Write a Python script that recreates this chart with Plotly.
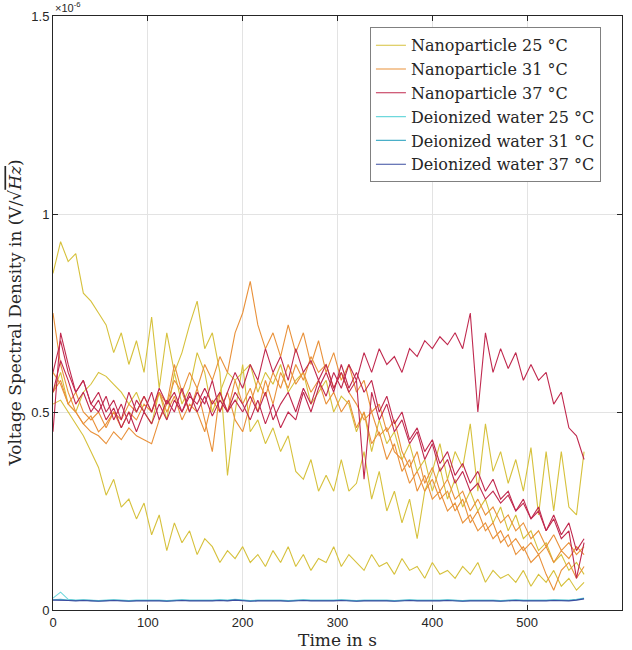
import plotly.graph_objects as go
import numpy as np

# time axis (s), one sample every 8 s
time_s = list(range(0, 561, 8))

# voltage spectral density, in units of 1e-6 V/sqrt(Hz)
np25_a = [0.85, 0.93, 0.88, 0.90, 0.80, 0.78, 0.75, 0.72, 0.65, 0.70, 0.62, 0.68, 0.60, 0.74, 0.56, 0.70,
          0.60, 0.65, 0.72, 0.78, 0.66, 0.70, 0.60, 0.34, 0.50, 0.62, 0.45, 0.48, 0.42, 0.46, 0.40, 0.44,
          0.35, 0.33, 0.38, 0.30, 0.34, 0.30, 0.38, 0.30, 0.32, 0.40, 0.28, 0.35, 0.25, 0.30, 0.22, 0.28,
          0.18, 0.30, 0.35, 0.42, 0.33, 0.40, 0.36, 0.47, 0.30, 0.47, 0.35, 0.40, 0.32, 0.38, 0.30, 0.41,
          0.24, 0.40, 0.25, 0.40, 0.26, 0.24, 0.40]
np25_b = [0.55, 0.60, 0.52, 0.50, 0.55, 0.57, 0.60, 0.59, 0.57, 0.55, 0.52, 0.55, 0.50, 0.47, 0.55, 0.48,
          0.60, 0.52, 0.56, 0.65, 0.60, 0.50, 0.55, 0.60, 0.58, 0.60, 0.62, 0.55, 0.60, 0.57, 0.62, 0.55,
          0.58, 0.60, 0.52, 0.55, 0.58, 0.50, 0.54, 0.52, 0.45, 0.50, 0.40, 0.48, 0.42, 0.45, 0.38, 0.42,
          0.35, 0.38, 0.30, 0.36, 0.28, 0.33, 0.26, 0.30, 0.25, 0.28, 0.22, 0.26, 0.20, 0.24, 0.18, 0.20,
          0.15, 0.17, 0.12, 0.14, 0.10, 0.12, 0.09]
np25_c = [0.52, 0.53, 0.50, 0.47, 0.44, 0.40, 0.36, 0.29, 0.33, 0.26, 0.28, 0.23, 0.27, 0.19, 0.24, 0.15,
          0.22, 0.17, 0.20, 0.14, 0.18, 0.16, 0.12, 0.15, 0.13, 0.16, 0.12, 0.14, 0.11, 0.15, 0.12, 0.16,
          0.11, 0.14, 0.10, 0.13, 0.12, 0.16, 0.11, 0.14, 0.12, 0.10, 0.14, 0.11, 0.12, 0.09, 0.13, 0.10,
          0.11, 0.08, 0.12, 0.09, 0.10, 0.08, 0.11, 0.09, 0.12, 0.07, 0.10, 0.08, 0.09, 0.07, 0.10, 0.06,
          0.09, 0.07, 0.10, 0.06, 0.08, 0.05, 0.07]

np31_a = [0.60, 0.57, 0.52, 0.55, 0.50, 0.48, 0.50, 0.46, 0.50, 0.48, 0.52, 0.50, 0.54, 0.50, 0.55, 0.52,
          0.58, 0.55, 0.60, 0.56, 0.62, 0.58, 0.64, 0.60, 0.70, 0.75, 0.83, 0.72, 0.66, 0.70, 0.64, 0.72,
          0.65, 0.70, 0.62, 0.68, 0.60, 0.65, 0.58, 0.62, 0.55, 0.58, 0.50, 0.52, 0.45, 0.48, 0.40, 0.36,
          0.40, 0.32, 0.36, 0.30, 0.33, 0.28, 0.30, 0.25, 0.28, 0.24, 0.26, 0.22, 0.24, 0.20, 0.22, 0.18,
          0.20, 0.16, 0.19, 0.15, 0.17, 0.14, 0.16]
np31_b = [0.75, 0.62, 0.55, 0.50, 0.47, 0.45, 0.44, 0.42, 0.45, 0.43, 0.46, 0.44, 0.43, 0.42, 0.48, 0.52,
          0.62, 0.55, 0.50, 0.56, 0.48, 0.40, 0.55, 0.50, 0.58, 0.52, 0.56, 0.50, 0.58, 0.52, 0.60, 0.56,
          0.62, 0.58, 0.64, 0.60, 0.62, 0.56, 0.60, 0.55, 0.52, 0.48, 0.50, 0.44, 0.46, 0.40, 0.38, 0.32,
          0.35, 0.30, 0.33, 0.28, 0.30, 0.25, 0.28, 0.22, 0.25, 0.20, 0.22, 0.17, 0.19, 0.14, 0.16, 0.12,
          0.14, 0.09, 0.05, 0.10, 0.12, 0.08, 0.11]
np31_c = [0.55, 0.58, 0.52, 0.50, 0.47, 0.49, 0.45, 0.47, 0.50, 0.46, 0.50, 0.48, 0.52, 0.50, 0.55, 0.50,
          0.54, 0.48, 0.52, 0.50, 0.45, 0.53, 0.50, 0.55, 0.48, 0.45, 0.52, 0.58, 0.54, 0.60, 0.56, 0.62,
          0.57, 0.60, 0.55, 0.58, 0.52, 0.55, 0.50, 0.53, 0.46, 0.50, 0.42, 0.45, 0.38, 0.42, 0.35, 0.38,
          0.30, 0.34, 0.28, 0.30, 0.25, 0.27, 0.22, 0.24, 0.20, 0.22, 0.18, 0.20, 0.16, 0.18, 0.15, 0.17,
          0.14, 0.16, 0.12, 0.15, 0.13, 0.16, 0.14]

np37_a = [0.45, 0.70, 0.62, 0.55, 0.58, 0.52, 0.55, 0.50, 0.53, 0.48, 0.55, 0.50, 0.54, 0.50, 0.56, 0.52,
          0.55, 0.50, 0.54, 0.52, 0.56, 0.52, 0.55, 0.50, 0.53, 0.50, 0.54, 0.50, 0.55, 0.48, 0.52, 0.55,
          0.50, 0.56, 0.52, 0.58, 0.54, 0.60, 0.56, 0.62, 0.58, 0.65, 0.60, 0.66, 0.62, 0.64, 0.60, 0.66,
          0.64, 0.68, 0.66, 0.69, 0.67, 0.70, 0.66, 0.75, 0.50, 0.70, 0.60, 0.66, 0.61, 0.65, 0.58, 0.62,
          0.58, 0.60, 0.52, 0.55, 0.46, 0.44, 0.38]
np37_b = [0.60, 0.68, 0.60, 0.55, 0.58, 0.52, 0.50, 0.54, 0.48, 0.52, 0.47, 0.53, 0.50, 0.55, 0.48, 0.53,
          0.50, 0.56, 0.50, 0.55, 0.52, 0.58, 0.50, 0.55, 0.60, 0.56, 0.62, 0.58, 0.66, 0.60, 0.64, 0.58,
          0.66, 0.60, 0.63, 0.58, 0.62, 0.56, 0.60, 0.55, 0.58, 0.33, 0.55, 0.48, 0.52, 0.45, 0.48, 0.42,
          0.45, 0.38, 0.42, 0.35, 0.38, 0.32, 0.35, 0.30, 0.32, 0.28, 0.30, 0.27, 0.29, 0.25, 0.27, 0.23,
          0.25, 0.20, 0.23, 0.18, 0.20, 0.08, 0.17]
np37_c = [0.55, 0.63, 0.58, 0.52, 0.55, 0.50, 0.53, 0.48, 0.51, 0.46, 0.50, 0.45, 0.50, 0.47, 0.52, 0.48,
          0.53, 0.50, 0.55, 0.50, 0.54, 0.49, 0.53, 0.50, 0.55, 0.52, 0.48, 0.53, 0.47, 0.52, 0.46, 0.50,
          0.48, 0.55, 0.50, 0.56, 0.60, 0.55, 0.62, 0.56, 0.60, 0.55, 0.58, 0.50, 0.54, 0.47, 0.50, 0.43,
          0.46, 0.40, 0.43, 0.37, 0.40, 0.34, 0.37, 0.32, 0.35, 0.30, 0.33, 0.28, 0.30, 0.25, 0.28, 0.23,
          0.26, 0.20, 0.24, 0.19, 0.22, 0.15, 0.18]

di25 = [0.030, 0.045, 0.027, 0.025, 0.026, 0.025, 0.024, 0.025, 0.026, 0.025, 0.024, 0.025, 0.025, 0.026,
        0.025, 0.024, 0.025, 0.026, 0.025, 0.025, 0.024, 0.025, 0.026, 0.025, 0.027, 0.025, 0.024, 0.025,
        0.025, 0.026, 0.025, 0.024, 0.025, 0.026, 0.025, 0.025, 0.024, 0.025, 0.026, 0.025, 0.024, 0.025,
        0.025, 0.026, 0.025, 0.024, 0.025, 0.026, 0.025, 0.025, 0.024, 0.025, 0.026, 0.025, 0.024, 0.025,
        0.025, 0.026, 0.025, 0.024, 0.025, 0.026, 0.025, 0.025, 0.024, 0.025, 0.026, 0.025, 0.025, 0.027, 0.030]
di31 = [0.026, 0.027, 0.025, 0.024, 0.025, 0.024, 0.023, 0.024, 0.025, 0.024, 0.023, 0.024, 0.024, 0.025,
        0.024, 0.023, 0.024, 0.025, 0.024, 0.024, 0.023, 0.024, 0.025, 0.024, 0.026, 0.024, 0.023, 0.024,
        0.024, 0.025, 0.024, 0.023, 0.024, 0.025, 0.024, 0.024, 0.023, 0.024, 0.025, 0.024, 0.023, 0.024,
        0.024, 0.025, 0.024, 0.023, 0.024, 0.025, 0.024, 0.024, 0.023, 0.024, 0.025, 0.024, 0.023, 0.024,
        0.024, 0.025, 0.024, 0.023, 0.024, 0.025, 0.024, 0.024, 0.023, 0.024, 0.025, 0.024, 0.024, 0.026, 0.029]
di37 = [0.025, 0.025, 0.024, 0.023, 0.024, 0.023, 0.022, 0.023, 0.024, 0.023, 0.022, 0.023, 0.023, 0.024,
        0.023, 0.022, 0.023, 0.024, 0.023, 0.023, 0.022, 0.023, 0.024, 0.023, 0.025, 0.023, 0.022, 0.023,
        0.023, 0.024, 0.023, 0.022, 0.023, 0.024, 0.023, 0.023, 0.022, 0.023, 0.024, 0.023, 0.022, 0.023,
        0.023, 0.024, 0.023, 0.022, 0.023, 0.024, 0.023, 0.023, 0.022, 0.023, 0.024, 0.023, 0.022, 0.023,
        0.023, 0.024, 0.023, 0.022, 0.023, 0.024, 0.023, 0.023, 0.022, 0.023, 0.024, 0.023, 0.023, 0.025, 0.028]

groups = [
    ("Nanoparticle 25 °C", "#D6C13C", [np25_a, np25_b, np25_c]),
    ("Nanoparticle 31 °C", "#E9913A", [np31_a, np31_b, np31_c]),
    ("Nanoparticle 37 °C", "#C0294E", [np37_a, np37_b, np37_c]),
    ("Deionized water 25 °C", "#6ED8DC", [di25]),
    ("Deionized water 31 °C", "#4AAFC8", [di31]),
    ("Deionized water 37 °C", "#3A4DA0", [di37]),
]

fig = go.Figure()

for name, color, runs in groups:
    for i, run in enumerate(runs):
        fig.add_trace(go.Scatter(
            x=time_s,
            y=np.array(run) * 1e-6,
            mode='lines',
            name=name,
            legendgroup=name,
            showlegend=(i == 0),
            line=dict(color=color, width=1.1)
        ))

serif = 'DejaVu Serif'

axis_style = dict(
    showgrid=True,
    gridcolor='#E3E3E3',
    zeroline=False,
    showline=True,
    linecolor='#262626',
    linewidth=1,
    mirror='ticks',
    ticks='inside',
    ticklen=5,
    tickcolor='#262626',
    automargin=False,
    tickfont=dict(family='Liberation Sans', size=13, color='#262626')
)

fig.update_layout(
    width=632,
    height=650,
    plot_bgcolor='white',
    paper_bgcolor='white',
    margin=dict(l=53, r=10, t=16, b=40),
    xaxis=dict(
        axis_style,
        range=[0, 600],
        tickvals=[0, 100, 200, 300, 400, 500, 600],
        title=dict(text='Time in s', standoff=2,
                   font=dict(family=serif, size=17, color='#262626'))
    ),
    yaxis=dict(
        axis_style,
        range=[0, 1.5e-6],
        tickvals=[0, 0.5e-6, 1e-6, 1.5e-6],
        ticktext=['0', '0.5', '1', '1.5']
    ),
    legend=dict(
        x=0.557, y=0.981, xanchor='left', yanchor='top',
        bgcolor='white', bordercolor='#808080', borderwidth=1,
        font=dict(family=serif, size=16, color='#262626'),
        tracegroupgap=0, itemwidth=30
    ),
    showlegend=True
)

fig.add_annotation(
    xref='paper', yref='paper', x=0, y=1, xanchor='left', yanchor='bottom',
    text='×10<sup>-6</sup>', showarrow=False,
    font=dict(family='Liberation Sans', size=11, color='#262626')
)
fig.add_annotation(
    xref='paper', yref='paper', x=-0.066, y=0.5, xanchor='center', yanchor='middle',
    textangle=-90, showarrow=False,
    text="Voltage Spectral Density in (V/√<span style='text-decoration:overline'><i>Hz</i></span>)",
    font=dict(family=serif, size=17, color='#262626')
)

# drop the default 8 px page margin so the figure fills the window
fig.write_html("out.html", config={'displayModeBar': False},
               post_script="document.body.style.margin='0';")
